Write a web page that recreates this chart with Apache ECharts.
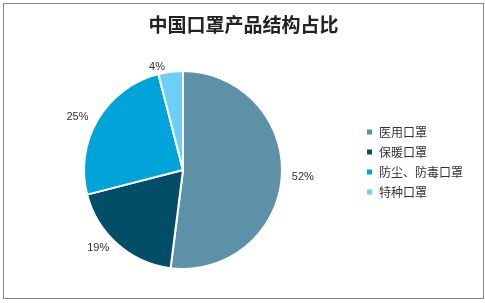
<!DOCTYPE html>
<html>
<head>
<meta charset="utf-8">
<script src="https://cdn.jsdelivr.net/npm/echarts@6/dist/echarts.min.js"></script>
<style>
  html, body { margin: 0; padding: 0; background: #fff; }
  .frame {
    position: absolute;
    left: 3px;
    top: 3px;
    width: 479px;
    height: 294px;
    border: 1px solid #858585;
    box-sizing: content-box;
  }
  #chart { width: 479px; height: 294px; }
</style>
</head>
<body>
<div class="frame"><div id="chart"></div></div>
<script>
// 产品类别及占比（%）
const categories = ['医用口罩', '保暖口罩', '防尘、防毒口罩', '特种口罩']
const shares = [52, 19, 25, 4]
const colors = ['#5c91a8', '#024e69', '#00a3da', '#6dcff6']

const chart = echarts.init(document.getElementById('chart'))

chart.setOption({
  animation: false,
  color: colors,
  title: {
    text: '中国口罩产品结构占比',
    left: 'center',
    top: 6,
    textStyle: {
      fontFamily: 'Noto Sans CJK SC',
      fontSize: 19,
      fontWeight: 'bold',
      color: '#222'
    }
  },
  legend: {
    orient: 'vertical',
    left: 356,
    top: 117,
    itemWidth: 7,
    itemHeight: 7,
    itemGap: 8,
    icon: 'rect',
    data: categories,
    textStyle: {
      fontFamily: 'Noto Sans CJK SC',
      fontSize: 12,
      color: '#333',
      padding: [0, 0, 0, 1]
    }
  },
  series: [
    {
      type: 'pie',
      center: [179, 166],
      radius: 99,
      startAngle: 90,
      clockwise: true,
      itemStyle: {
        borderColor: '#fff',
        borderWidth: 2
      },
      label: {
        show: true,
        position: 'outside',
        formatter: (p) => p.value + '%',
        fontFamily: 'Liberation Sans',
        fontSize: 11,
        color: '#333'
      },
      labelLine: {
        show: false,
        length: 5,
        length2: 0
      },
      data: categories.map((name, i) => ({ name, value: shares[i] }))
    }
  ]
})
</script>
</body>
</html>
